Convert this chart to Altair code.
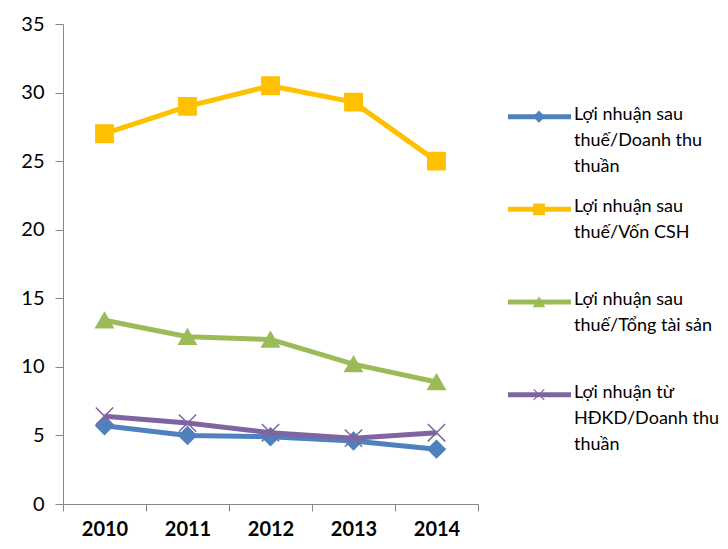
import altair as alt
import pandas as pd

years = [2010, 2011, 2012, 2013, 2014]
series_names = [
    "Lợi nhuận sau\nthuế/Doanh thu\nthuần",
    "Lợi nhuận sau\nthuế/Vốn CSH",
    "Lợi nhuận sau\nthuế/Tổng tài sản",
    "Lợi nhuận từ\nHĐKD/Doanh thu\nthuần",
]
ln_dt = [5.7, 5.0, 4.9, 4.6, 4.0]
ln_von = [27.0, 29.0, 30.5, 29.3, 25.0]
ln_ts = [13.4, 12.2, 12.0, 10.2, 8.9]
ln_hdkd = [6.4, 5.9, 5.2, 4.8, 5.2]
colors = ["#4F81BD", "#FFC000", "#9BBB59", "#8064A2"]
shapes = ["diamond", "square", "triangle-up", "M-1,-1L1,1M1,-1L-1,1"]
tick_bounds = [2009.5, 2010.5, 2011.5, 2012.5, 2013.5, 2014.5]

rows = []
for name, vals in zip(series_names, [ln_dt, ln_von, ln_ts, ln_hdkd]):
    for y, v in zip(years, vals):
        rows.append({"series": name, "year": y, "value": v})
df = pd.DataFrame(rows)

color_scale = alt.Scale(domain=series_names, range=colors)
shape_scale = alt.Scale(domain=series_names, range=shapes)

FONT = "Lato"

x_enc = alt.X(
    "year:Q",
    scale=alt.Scale(domain=[2009.5, 2014.5], nice=False, zero=False),
    axis=alt.Axis(
        values=tick_bounds,
        labelExpr="datum.value < 2014 ? format(datum.value + 0.5, 'd') : ''",
        labelOffset=41.5,
        labelFlush=False,
        labelOverlap=False,
        title=None,
        grid=False,
        tickSize=7,
        labelPadding=8,
        labelFontSize=20,
        labelFontWeight="bold",
        labelFont=FONT,
        labelColor="#000000",
        domainColor="#868686",
        tickColor="#868686",
    ),
)
y_enc = alt.Y(
    "value:Q",
    scale=alt.Scale(domain=[0, 35], nice=False),
    axis=alt.Axis(
        values=[0, 5, 10, 15, 20, 25, 30, 35],
        title=None,
        grid=False,
        tickSize=8,
        labelPadding=11,
        labelFontSize=20,
        labelFont=FONT,
        labelColor="#000000",
        domainColor="#868686",
        tickColor="#868686",
    ),
)

base = alt.Chart(df)
layers = []
for name in series_names:
    sub = base.transform_filter(alt.datum.series == name)
    layers.append(
        sub.mark_line(strokeWidth=5).encode(
            x=x_enc, y=y_enc,
            color=alt.Color("series:N", scale=color_scale, legend=None),
        )
    )
    layers.append(
        sub.mark_point(size=300, strokeWidth=1.5, opacity=1).encode(
            x=x_enc, y=y_enc,
            shape=alt.Shape("series:N", scale=shape_scale, legend=None),
            fill=alt.Fill("series:N", scale=color_scale, legend=None),
            stroke=alt.Stroke("series:N", scale=color_scale, legend=None),
        )
    )
main = alt.layer(*layers).properties(width=415, height=480)

leg_df = pd.DataFrame({"series": series_names, "idx": list(range(len(series_names)))})
leg_y = alt.Y("idx:Q", scale=alt.Scale(domain=[-1.0, 4.18], reverse=True, nice=False, zero=False), axis=None)
leg_base = alt.Chart(leg_df)
leg_rule = leg_base.mark_rule(strokeWidth=5).encode(
    x=alt.value(0), x2=alt.value(63), y=leg_y,
    color=alt.Color("series:N", scale=color_scale, legend=None),
)
leg_pt = leg_base.mark_point(size=110, strokeWidth=1.2, opacity=1).encode(
    x=alt.value(31), y=leg_y,
    shape=alt.Shape("series:N", scale=shape_scale, legend=None),
    fill=alt.Fill("series:N", scale=color_scale, legend=None),
    stroke=alt.Stroke("series:N", scale=color_scale, legend=None),
)
leg_txt = leg_base.mark_text(
    align="left", baseline="top", dy=-11, fontSize=18, font=FONT,
    lineBreak="\n", lineHeight=26, color="#000000",
).encode(x=alt.value(66), y=leg_y, text="series:N")
legend = alt.layer(leg_rule, leg_pt, leg_txt).properties(width=190, height=480)

chart = (
    alt.hconcat(main, legend, spacing=30, bounds="flush")
    .configure_view(stroke=None)
    .properties(padding={"left": 12, "top": 6, "right": 0, "bottom": 0})
)

chart.save("out.html", embed_options={"renderer": "svg", "actions": False})
